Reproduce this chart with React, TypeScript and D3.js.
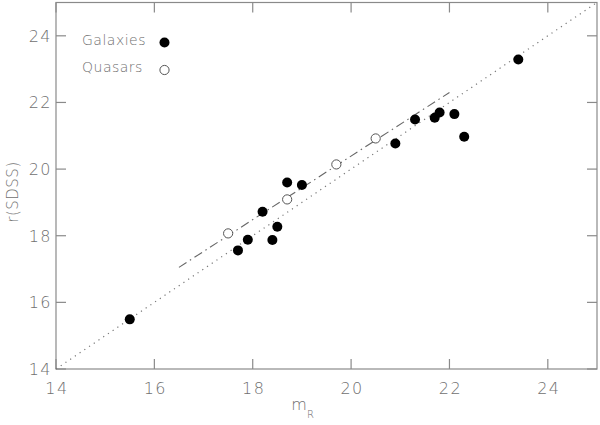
import React from "react";
import * as d3 from "d3";

const galaxyMR = [15.5, 17.7, 17.9, 18.2, 18.4, 18.5, 18.7, 19.0, 20.9, 21.3, 21.7, 21.8, 22.1, 22.3, 23.4];
const galaxyR = [15.49, 17.56, 17.88, 18.72, 17.87, 18.27, 19.6, 19.52, 20.77, 21.49, 21.54, 21.7, 21.65, 20.97, 23.29];
const quasarMR = [17.5, 18.7, 19.7, 20.5];
const quasarR = [18.07, 19.09, 20.14, 20.92];
const fitX = [16.5, 22.0];
const fitY = [17.05, 22.3];
const identityLine = [14, 25];
const xTicks = [14, 16, 18, 20, 22, 24];
const yTicks = [14, 16, 18, 20, 22, 24];

const W = 600, H = 425;
const L = 56, R = 597, T = 2.5, B = 369;
const AX = "#8a8a8a";
const TXT = "#707070";
const FONT = "'DejaVu Sans', sans-serif";

export default function App() {
  const x = d3.scaleLinear().domain([14, 25]).range([L, R]);
  const y = d3.scaleLinear().domain([14, 25]).range([B, T]);
  const line = d3.line<[number, number]>().x(d => x(d[0])).y(d => y(d[1]));
  const tl = 10;
  return (
    <svg width={W} height={H} style={{ position: "absolute", left: 0, top: 0, background: "#fff" }}>
      <rect x={L} y={T} width={R - L} height={B - T} fill="none" stroke={AX} strokeWidth={1.2} />
      {xTicks.map(t => (
        <g key={"x" + t}>
          <line x1={x(t)} x2={x(t)} y1={B} y2={B - tl} stroke={AX} strokeWidth={1.2} />
          <line x1={x(t)} x2={x(t)} y1={T} y2={T + tl} stroke={AX} strokeWidth={1.2} />
          <text x={x(t) + 1} y={394} textAnchor="middle" fontSize={16} letterSpacing={1.5} fill={TXT} fontFamily={FONT} fontWeight={200}>{t}</text>
        </g>
      ))}
      {yTicks.map(t => (
        <g key={"y" + t}>
          <line x1={L} x2={L + tl} y1={y(t)} y2={y(t)} stroke={AX} strokeWidth={1.2} />
          <line x1={R} x2={R - tl} y1={y(t)} y2={y(t)} stroke={AX} strokeWidth={1.2} />
          <text x={52} y={y(t) + 6} textAnchor="end" fontSize={16} letterSpacing={1.5} fill={TXT} fontFamily={FONT} fontWeight={200}>{t}</text>
        </g>
      ))}
      <path d={line(identityLine.map(v => [v, v] as [number, number])) || ""} fill="none" stroke="#777" strokeWidth={1.2} strokeDasharray="1.2,4.5" />
      <path d={line(fitX.map((v, i) => [v, fitY[i]] as [number, number])) || ""} fill="none" stroke="#666" strokeWidth={1.1} strokeDasharray="9,4,1.5,4" />
      {galaxyMR.map((v, i) => (
        <circle key={"g" + i} cx={x(v)} cy={y(galaxyR[i])} r={5} fill="#000" />
      ))}
      {quasarMR.map((v, i) => (
        <circle key={"q" + i} cx={x(v)} cy={y(quasarR[i])} r={4.6} fill="#fff" stroke="#555" strokeWidth={1} />
      ))}
      <text x={82} y={45} fontSize={14} letterSpacing={0.5} fill={TXT} fontFamily={FONT} fontWeight={200}>Galaxies</text>
      <circle cx={164.5} cy={42.5} r={5} fill="#000" />
      <text x={82} y={72} fontSize={14} letterSpacing={0.5} fill={TXT} fontFamily={FONT} fontWeight={200}>Quasars</text>
      <circle cx={164.5} cy={70} r={4.6} fill="#fff" stroke="#555" strokeWidth={1} />
      <text x={299} y={410} textAnchor="middle" fontSize={16} fill={TXT} fontFamily={FONT} fontWeight={200}>m</text>
      <text x={307} y={418} fontSize={10} fill={TXT} fontFamily={FONT} fontWeight={200}>R</text>
      <text transform={`translate(18,${192}) rotate(-90)`} textAnchor="middle" fontSize={15} letterSpacing={0.5} fill={TXT} fontFamily={FONT} fontWeight={200}>r(SDSS)</text>
    </svg>
  );
}
